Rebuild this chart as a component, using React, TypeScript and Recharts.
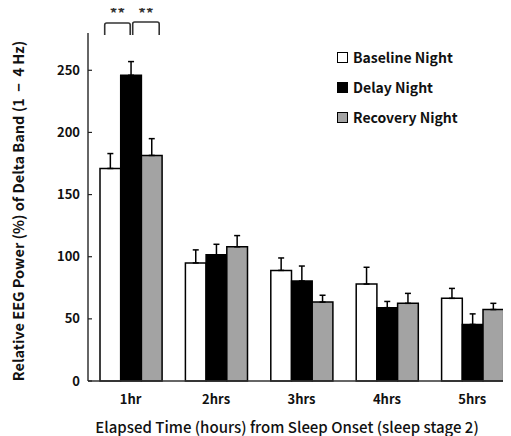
import React from 'react';
import { Bar, BarChart, Customized, ErrorBar, XAxis, YAxis } from 'recharts';

const hours = ['1hr', '2hrs', '3hrs', '4hrs', '5hrs'];
const baseline = [171, 95, 89, 78, 66.5];
const baselineErr = [12, 10.5, 10, 13.5, 8];
const delay = [246, 101.5, 80.5, 59, 45.5];
const delayErr = [11, 8.5, 12, 5, 8.5];
const recovery = [181.5, 108, 63.5, 62.5, 57.5];
const recoveryErr = [13.5, 9, 5.5, 8, 5];
const yTicks = [0, 50, 100, 150, 200, 250];

const data = hours.map((h, i) => ({
  name: h,
  baseline: baseline[i],
  baselineErr: [0, baselineErr[i]],
  delay: delay[i],
  delayErr: [0, delayErr[i]],
  recovery: recovery[i],
  recoveryErr: [0, recoveryErr[i]],
}));

const FONT = '"Noto Sans CJK JP", "Noto Sans", sans-serif';
const AXIS_X = 88;
const PLOT_RIGHT = 515;
const BAND = (PLOT_RIGHT - AXIS_X) / hours.length;

const legendItems = [
  { label: 'Baseline Night', fill: '#ffffff' },
  { label: 'Delay Night', fill: '#000000' },
  { label: 'Recovery Night', fill: '#a3a3a3' },
];

const LegendBox = () => (
  <div style={{ position: 'absolute', left: 337, top: 42, fontFamily: FONT, fontWeight: 700, fontSize: 14, color: '#111' }}>
    {legendItems.map((it) => (
      <div key={it.label} style={{ display: 'flex', alignItems: 'center', height: 30 }}>
        <span
          style={{
            display: 'inline-block',
            width: 9,
            height: 9,
            border: '1.5px solid #000',
            background: it.fill,
            marginRight: 5,
          }}
        />
        {it.label}
      </div>
    ))}
  </div>
);

const YTick = (props: any) => {
  const { y, payload } = props;
  return (
    <g>
      <line x1={AXIS_X} x2={AXIS_X + 4} y1={y} y2={y} stroke="#222" strokeWidth={1.2} />
      <text x={AXIS_X - 8} y={y} dy="0.35em" textAnchor="end" fontFamily={FONT} fontWeight={700} fontSize={13} fill="#111">
        {payload.value}
      </text>
    </g>
  );
};

const Annotations = () => {
  const c = AXIS_X + BAND / 2;
  const brackets = [
    [c - 26, c - 0.5, 23],
    [c + 2, c + 28.5, 22],
  ];
  return (
    <g>
      {brackets.map(([x1, x2, top], i) => (
        <g key={i}>
          <path
            d={`M${x1},35 L${x1},${top + 2} Q${x1},${top} ${x1 + 2},${top} L${x2 - 2},${top} Q${x2},${top} ${x2},${top + 2} L${x2},35`}
            fill="none"
            stroke="#333"
            strokeWidth={1.6}
          />
          <text x={(x1 + x2) / 2} y={19} textAnchor="middle" fontFamily={FONT} fontWeight={700} fontSize={15} fill="#333">
            **
          </text>
        </g>
      ))}
      <text
        transform="translate(19,211) rotate(-90)"
        textAnchor="middle"
        dy="0.35em"
        fontFamily={FONT}
        fontWeight={700}
        fontSize={14.5}
        fill="#111"
      >
        {'Relative EEG Power (%) of Delta Band (1\u00a0\u00a0\u2212\u00a0\u00a04 Hz)'}
      </text>
      <text x={287} y={428} dy="0.35em" textAnchor="middle" fontFamily={FONT} fontWeight={500} fontSize={15} fill="#111">
        Elapsed Time (hours) from Sleep Onset (sleep stage 2)
      </text>
    </g>
  );
};

export default function App() {
  return (
    <div style={{ marginLeft: -8, marginTop: -8, width: 511, height: 436, overflow: 'hidden', position: 'relative', background: '#fff' }}>
      <BarChart
        width={520}
        height={436}
        data={data}
        margin={{ top: 33, right: 520 - PLOT_RIGHT, bottom: 25, left: 0 }}
        barGap={0}
        barSize={20.7}
      >
        <XAxis
          dataKey="name"
          height={30}
          tickLine={false}
          tickSize={0}
          tickMargin={14}
          stroke="#333"
          strokeWidth={1.5}
          tick={{ fontFamily: FONT, fontWeight: 700, fontSize: 13, fill: '#111' }}
        />
        <YAxis
          width={AXIS_X}
          domain={[0, 280]}
          ticks={yTicks}
          tickLine={false}
          stroke="#333"
          strokeWidth={1.5}
          tick={<YTick />}
          interval={0}
        />
        <Bar dataKey="baseline" fill="#ffffff" stroke="#000" strokeWidth={1.5} isAnimationActive={false}>
          <ErrorBar dataKey="baselineErr" direction="y" width={3} stroke="#000" strokeWidth={1.5} />
        </Bar>
        <Bar dataKey="delay" fill="#000000" stroke="#000" strokeWidth={1.5} isAnimationActive={false}>
          <ErrorBar dataKey="delayErr" direction="y" width={3} stroke="#000" strokeWidth={1.5} />
        </Bar>
        <Bar dataKey="recovery" fill="#a3a3a3" stroke="#000" strokeWidth={1.5} isAnimationActive={false}>
          <ErrorBar dataKey="recoveryErr" direction="y" width={3} stroke="#000" strokeWidth={1.5} />
        </Bar>
        <Customized component={<Annotations />} />
      </BarChart>
      <LegendBox />
    </div>
  );
}
